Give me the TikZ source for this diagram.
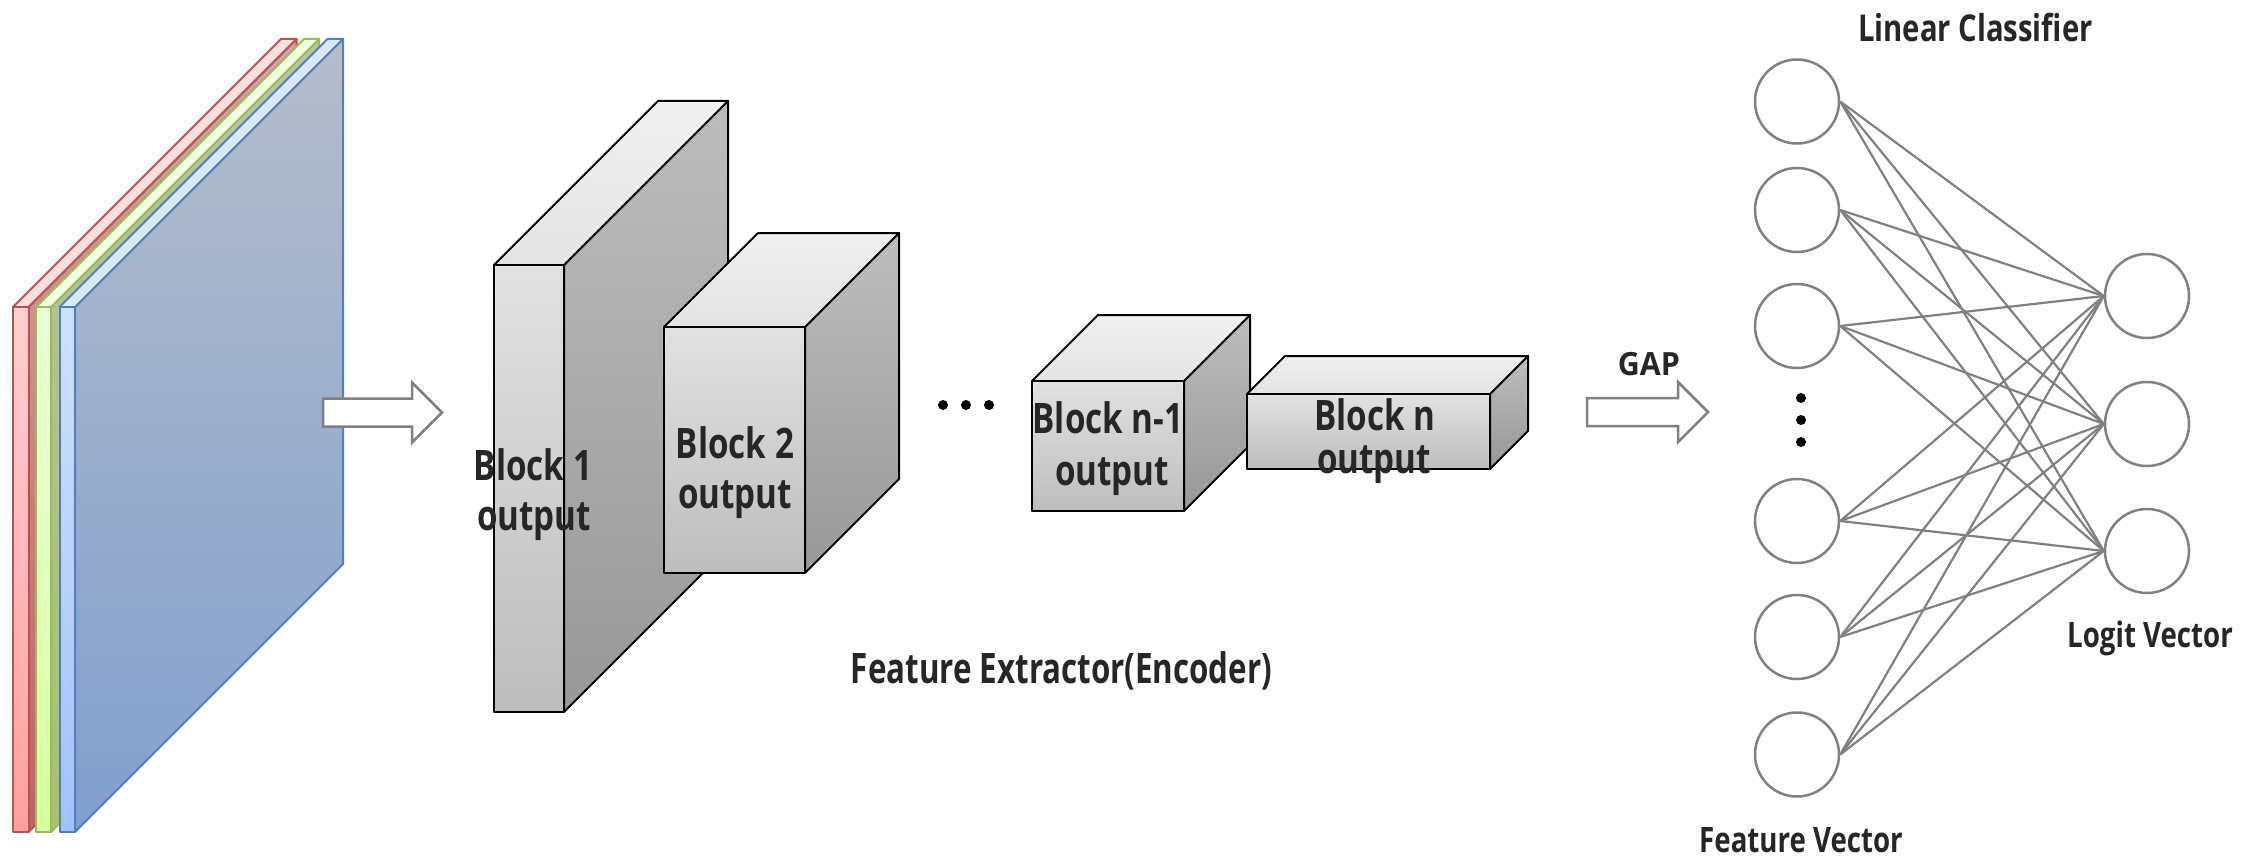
\documentclass[tikz,border=0pt]{standalone}
\usepackage{fontspec}
\newfontfamily\lbl[FakeStretch=0.79]{Open Sans}
\newfontfamily\lblfe[FakeStretch=0.745]{Open Sans}
\newfontfamily\lblgap[FakeStretch=0.95]{Open Sans}
\definecolor{txt}{HTML}{262626}
\definecolor{nngray}{HTML}{808080}
\definecolor{redE}{HTML}{C0504D}
\definecolor{greenE}{HTML}{9BBB59}
\definecolor{blueE}{HTML}{4F81BD}
\definecolor{redTop}{HTML}{FFE0E0}
\definecolor{redF1}{HTML}{FFCFCF}
\definecolor{redF2}{HTML}{FF9F9F}
\definecolor{redS1}{HTML}{C9A9A6}
\definecolor{redS2}{HTML}{C06464}
\definecolor{greenTop}{HTML}{F0FFE0}
\definecolor{greenF1}{HTML}{EBFFD6}
\definecolor{greenF2}{HTML}{D7FF9E}
\definecolor{greenS1}{HTML}{B9C4A4}
\definecolor{greenS2}{HTML}{A6C073}
\definecolor{blueTop}{HTML}{DDE8FF}
\definecolor{blueF1}{HTML}{D0E0FF}
\definecolor{blueF2}{HTML}{A3C1FF}
\definecolor{blueS1}{HTML}{B6BDCB}
\definecolor{blueS2}{HTML}{809FCD}
\definecolor{gsideA}{HTML}{BDBDBD}
\definecolor{gsideB}{HTML}{989898}
\definecolor{gtopA}{HTML}{F0F0F0}
\definecolor{gtopB}{HTML}{E4E4E4}
\definecolor{gfrontA}{HTML}{E2E2E2}
\definecolor{gfrontB}{HTML}{BDBDBD}
\newcommand\slab[9]{% x w edge topface fronttop frontbottom sidetop sidebottom name
  \shadedraw[top color=#7,bottom color=#8,draw=#3,line width=2pt,line join=round]
    ({#1+#2},307) -- ++(268,-268) -- ++(0,525) -- ++(-268,268) -- cycle;
  \filldraw[fill=#4,draw=#3,line width=2pt,line join=round]
    (#1,307) -- ++(268,-268) -- ++(#2,0) -- ++(-268,268) -- cycle;
  \shadedraw[top color=#5,bottom color=#6,draw=#3,line width=2pt,line join=round]
    (#1,307) rectangle ++(#2,525);
  \coordinate (#9) at ({#1+#2/2},570);
}
\newcommand\graybox[6]{% x y w h d name
  \shadedraw[top color=gsideA,bottom color=gsideB,draw=black,line width=2pt,line join=round]
    ({#1+#3},#2) -- ++(#5,-#5) -- ++(0,#4) -- ++(-#5,#5) -- cycle;
  \shadedraw[top color=gtopA,bottom color=gtopB,draw=black,line width=2pt,line join=round]
    (#1,#2) -- ++(#5,-#5) -- ++(#3,0) -- ++(-#5,#5) -- cycle;
  \shadedraw[top color=gfrontA,bottom color=gfrontB,draw=black,line width=2pt,line join=round]
    (#1,#2) rectangle ++(#3,#4);
  \coordinate (#6) at ({#1+#3/2},{#2+#4/2});
}
\newcommand\fatarrow[4]{% x0 yc bodylen name
  \filldraw[fill=white,draw=nngray,line width=2.5pt,line join=miter]
    (#1,{#2-14}) -- ++(#3,0) -- ++(0,-16) -- ++(30,30) -- ++(-30,30) -- ++(0,-16) -- ++(-#3,0) -- cycle;
  \coordinate (#4) at ({#1+#3/2},#2);
}
\begin{document}
\begin{tikzpicture}[x=1pt,y=-1pt,
  lbltext/.style={font={\lbl\bfseries\fontsize{42}{50}\selectfont},text=txt,inner sep=0pt,anchor=base},
  smalltext/.style={font={\lbl\bfseries\fontsize{35}{42}\selectfont},text=txt,inner sep=0pt,anchor=base},
  neuron/.style={circle,draw=nngray,line width=2.5pt,minimum size=84pt,inner sep=0pt},
  link/.style={draw=nngray,line width=2.2pt},
  dot/.style={circle,fill=black,inner sep=0pt,minimum size=10pt}]
\useasboundingbox (0,0) rectangle (2260,856);
% input image channels
\slab{13}{15.5}{redE}{redTop}{redF1}{redF2}{redS1}{redS2}{inR}
\slab{36}{15}{greenE}{greenTop}{greenF1}{greenF2}{greenS1}{greenS2}{inG}
\slab{59.5}{15.5}{blueE}{blueTop}{blueF1}{blueF2}{blueS1}{blueS2}{inB}
% arrow into encoder
\fatarrow{323}{412.5}{89}{arrA}
% encoder blocks
\graybox{494}{265}{70}{447}{164}{blk1}
\graybox{664}{327}{141}{246}{94}{blk2}
\graybox{1032}{381}{152}{130}{66}{blkn1}
\graybox{1247}{394}{243}{75}{38}{blkn}
\node[lbltext] (t1a) at (533,480) {Block 1};
\node[lbltext] (t1b) at (534,530) {output};
\node[lbltext] (t2a) at (735,458) {Block 2};
\node[lbltext] (t2b) at (735,508) {output};
\node[lbltext] (t3a) at (1108,433) {Block n-1};
\node[lbltext] (t3b) at (1112,485) {output};
\node[lbltext] (t4a) at (1375,430) {Block n};
\node[lbltext] (t4b) at (1374,473) {output};
% ellipsis between blocks
\node[dot] (e1) at (943,405) {};
\node[dot] (e2) at (966,405) {};
\node[dot] (e3) at (989,405) {};
\node[lbltext,font={\lblfe\bfseries\fontsize{42}{50}\selectfont}] (fe) at (1061.5,683) {Feature Extractor(Encoder)};
% GAP arrow
\fatarrow{1587}{412}{91}{arrG}
\node[font={\lblgap\bfseries\fontsize{32}{38}\selectfont},text=txt,inner sep=0pt,anchor=base] (gap) at (1649,375) {GAP};
% linear classifier
\node[neuron] (f1) at (1797,101.5) {};
\node[neuron] (f2) at (1797,210) {};
\node[neuron] (f3) at (1797,326) {};
\node[neuron] (f4) at (1797,521) {};
\node[neuron] (f5) at (1797,637) {};
\node[neuron] (f6) at (1797,754.5) {};
\node[neuron] (l1) at (2147,296) {};
\node[neuron] (l2) at (2147,424) {};
\node[neuron] (l3) at (2147,551) {};
\foreach \i in {1,...,6}{\foreach \j in {1,2,3}{\draw[link] (f\i.east) -- (l\j.west);}}
\node[dot] (v1) at (1801,398) {};
\node[dot] (v2) at (1801,420) {};
\node[dot] (v3) at (1801,442) {};
\node[smalltext,font={\lbl\bfseries\fontsize{37}{44}\selectfont}] (lc) at (1975.5,42) {Linear Classifier};
\node[smalltext] (lv) at (2150,647) {Logit Vector};
\node[smalltext] (fv) at (1801,852) {Feature Vector};
\end{tikzpicture}
\end{document}
